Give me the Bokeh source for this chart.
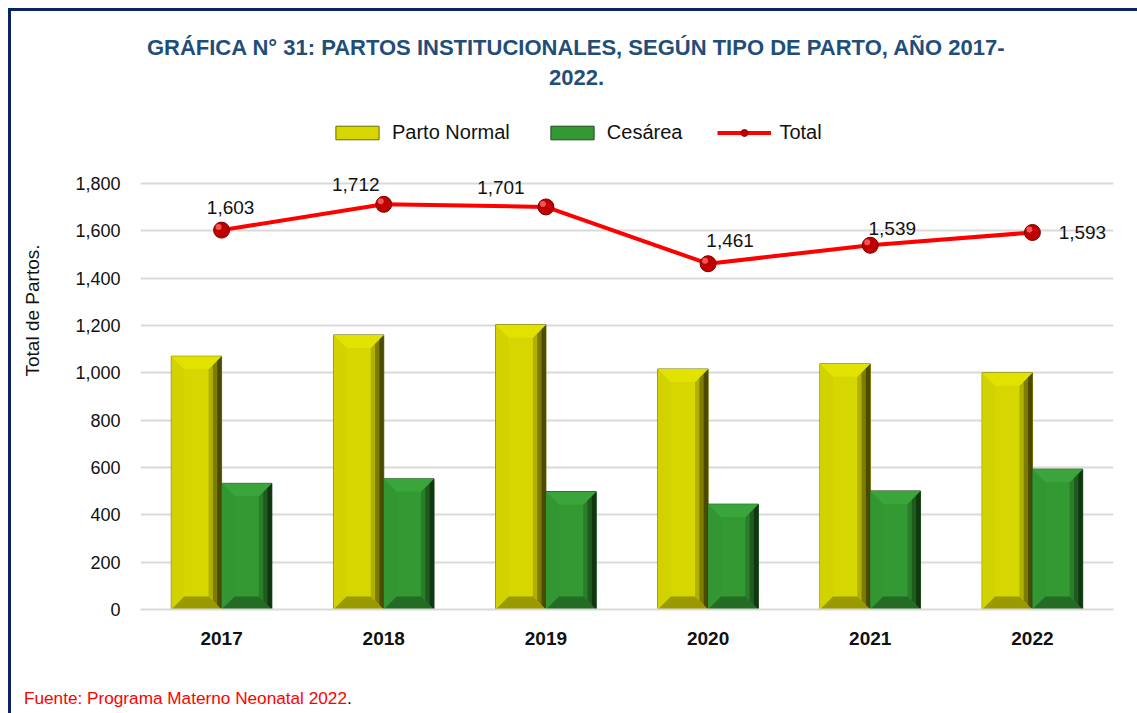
from bokeh.plotting import figure
from bokeh.layouts import column
from bokeh.models import (Range1d, FixedTicker, Label, Legend, LegendItem,
                          NumeralTickFormatter, Div)
from bokeh.core.properties import value
from bokeh.embed import file_html
from bokeh.resources import INLINE

# ---------------- data ----------------
years = ["2017", "2018", "2019", "2020", "2021", "2022"]
parto_normal = [1070, 1160, 1203, 1016, 1038, 1000]
cesarea = [533, 552, 498, 445, 501, 593]
total = [1603, 1712, 1701, 1461, 1539, 1593]
y_ticks = [0, 200, 400, 600, 800, 1000, 1200, 1400, 1600, 1800]

title_line1 = "GRÁFICA N° 31: PARTOS INSTITUCIONALES, SEGÚN TIPO DE PARTO, AÑO 2017-"
title_line2 = "2022."
y_label = "Total de Partos."
footer = "Fuente: Programa Materno Neonatal 2022"

# ---------------- layout (page pixels) ----------------
FONT = "Liberation Sans"
CANVAS_X0, CANVAS_Y0 = 11, 11
FOOT_H = 30
W, H = 1137 - CANVAS_X0, 713 - CANVAS_Y0 - FOOT_H
FRAME_L, FRAME_R, FRAME_B, Y1800_PX = 140, 1113, 609, 183

ppu = (FRAME_B - Y1800_PX) / 1800.0
y_end = (FRAME_B - CANVAS_Y0) / ppu
x_ppu = (FRAME_R - FRAME_L) / len(years)


def px_x(px):
    return -0.5 + (px - FRAME_L) / x_ppu


def px_y(py):
    return (FRAME_B - py) / ppu


p = figure(width=W, height=H, x_range=Range1d(-0.5, len(years) - 0.5),
           y_range=Range1d(0, y_end), output_backend="svg", toolbar_location=None,
           min_border_left=FRAME_L - CANVAS_X0, min_border_right=1137 - FRAME_R,
           min_border_top=0, min_border_bottom=CANVAS_Y0 + H - FRAME_B)
p.outline_line_color = None
p.background_fill_color = "white"
p.border_fill_color = "white"

# ---------------- bars with bevel ----------------
BW = 0.31
bx = 13 / x_ppu
by = 13 / ppu


def bevel_bars(values, offset, face, top_c, left_c, right_cs, bottom_c, edge_c):
    xs = [i + offset for i in range(len(values))]
    lefts = [x - BW / 2 for x in xs]
    rights = [x + BW / 2 for x in xs]
    r = p.quad(left=lefts, right=rights, bottom=0, top=values,
               fill_color=face, line_color=edge_c, line_width=1)
    tx, ty, lx, ly, bxs, bys = [], [], [], [], [], []
    for l, rr, v in zip(lefts, rights, values):
        tx.append([l, rr, rr - bx, l + bx]); ty.append([v, v, v - by, v - by])
        lx.append([l, l, l + bx, l + bx]); ly.append([0, v, v - by, by])
        bxs.append([l, rr, rr - bx, l + bx]); bys.append([0, 0, by, by])
    p.patches(lx, ly, fill_color=left_c, line_color=None)
    n = len(right_cs)
    for k, col in enumerate(right_cs):
        f = 1.0 - k / n
        rx = [[rr, rr, rr - bx * f, rr - bx * f] for rr in rights]
        ry = [[0, v, v - by * f, by * f] for v in values]
        p.patches(rx, ry, fill_color=col, line_color=None)
    p.patches(tx, ty, fill_color=top_c, line_color=None)
    p.patches(bxs, bys, fill_color=bottom_c, line_color=None)
    return r


r_norm = bevel_bars(parto_normal, -BW / 2, "#d6d600", "#e2e200", "#d2d200",
                    ["#b0b000", "#7c7c00", "#4a4a00"], "#9a9a00", "#6a6a00")
r_ces = bevel_bars(cesarea, BW / 2, "#339933", "#3aa53a", "#329632",
                   ["#2a7e2a", "#1e5c1e", "#123612"], "#246c24", "#1a4a1a")

# ---------------- total line ----------------
xc = list(range(len(years)))
r_line = p.line(xc, total, line_color="#ff0000", line_width=4)
r_pts = p.scatter(xc, total, size=16, fill_color="#c00000", line_color="#7a0000",
                  line_width=1)
p.scatter([x - 3 / x_ppu for x in xc], [t + 3 / ppu for t in total], size=6,
          fill_color="#ff6a6a", line_color=None, fill_alpha=0.8)

lbl_dx = [9, -28, -45, 22, 22, 50]
lbl_dy = [-23, -20, -19, -23, -17, 0]
p.text(x=xc, y=total, text=[f"{v:,}" for v in total], x_offset=lbl_dx, y_offset=lbl_dy,
       text_align="center", text_baseline="middle", text_font=value(FONT),
       text_font_size="19px", text_color="#111111")

# ---------------- axes / grid ----------------
p.xaxis.ticker = FixedTicker(ticks=xc)
p.xaxis.major_label_overrides = {i: y for i, y in enumerate(years)}
p.xaxis.major_label_text_font = FONT
p.xaxis.major_label_text_font_style = "bold"
p.xaxis.major_label_text_font_size = "19px"
p.xaxis.major_label_text_color = "#111111"
p.xaxis.major_label_standoff = 22
p.xaxis.major_tick_out = 0
p.xaxis.major_tick_in = 0
p.xaxis.major_tick_line_color = None
p.xaxis.minor_tick_line_color = None
p.xaxis.axis_line_color = "#d9d9d9"
p.xaxis.axis_line_width = 2

p.yaxis.ticker = FixedTicker(ticks=y_ticks)
p.yaxis.formatter = NumeralTickFormatter(format="0,0")
p.yaxis.major_label_text_font = FONT
p.yaxis.major_label_text_font_size = "18px"
p.yaxis.major_label_text_color = "#111111"
p.yaxis.major_label_standoff = 20
p.yaxis.major_tick_out = 0
p.yaxis.major_tick_in = 0
p.yaxis.major_tick_line_color = None
p.yaxis.minor_tick_line_color = None
p.yaxis.axis_line_color = None
p.yaxis.axis_label = y_label
p.yaxis.axis_label_text_font = FONT
p.yaxis.axis_label_text_font_style = "normal"
p.yaxis.axis_label_text_font_size = "19px"
p.yaxis.axis_label_text_color = "#111111"
p.yaxis.axis_label_standoff = 29

p.xgrid.visible = False
p.ygrid.ticker = FixedTicker(ticks=y_ticks)
p.ygrid.grid_line_color = "#d9d9d9"
p.ygrid.grid_line_width = 2

# ---------------- legend ----------------
legend = Legend(items=[LegendItem(label="Parto Normal", renderers=[r_norm]),
                       LegendItem(label="Cesárea", renderers=[r_ces]),
                       LegendItem(label="Total", renderers=[r_line, r_pts])],
                orientation="horizontal", location=(190, FRAME_B - 144),
                label_text_font=FONT, label_text_font_size="20px",
                label_text_color="#111111", glyph_width=54, glyph_height=17,
                spacing=35, label_standoff=8, padding=0, margin=0,
                border_line_color=None, background_fill_alpha=0)
p.add_layout(legend, "center")

# ---------------- title ----------------
for txt, cy in [(title_line1, 47), (title_line2, 77)]:
    p.add_layout(Label(x=px_x(576), y=px_y(cy), text=txt, text_align="center",
                       text_baseline="middle", text_font=FONT, text_font_style="bold",
                       text_font_size="22px", text_color="#1f4e79"))

# ---------------- footer ----------------
foot = Div(text=f'<span style="color:#ff0000">{footer}</span>.',
           width=W, height=FOOT_H,
           styles={"font-family": FONT, "font-size": "17.2px", "color": "#000000",
                   "line-height": "20px", "padding-left": "8px",
                   "background": "white"})

layout = column(p, foot, spacing=0,
                styles={"margin-left": "8px", "margin-top": "8px",
                        "border-top": "3px solid #0b2265",
                        "border-left": "3px solid #0b2265"})

open("out.html", "w").write(file_html(layout, INLINE))
